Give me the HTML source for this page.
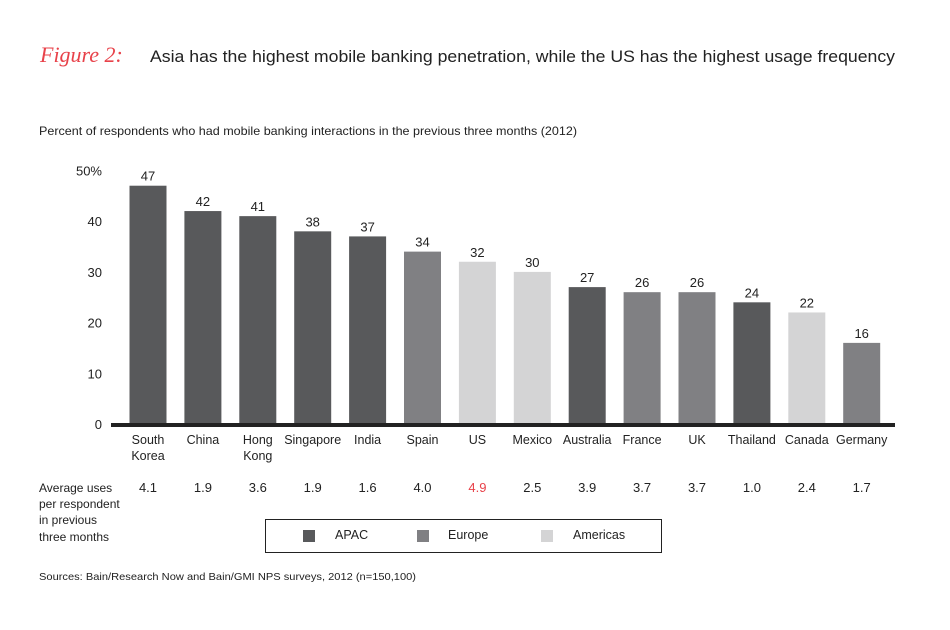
<!DOCTYPE html>
<html><head><meta charset="utf-8"><style>
body{margin:0;background:#fff;font-family:"Liberation Sans",sans-serif;}
svg text{font-family:"Liberation Sans",sans-serif;fill:#222;}
</style></head><body>
<svg width="950" height="625" viewBox="0 0 950 625">
<text x="40" y="62" font-size="22" font-style="italic" style="fill:#e8424a;font-family:'Liberation Serif',serif">Figure 2:</text>
<text x="150" y="62" font-size="17" textLength="745" lengthAdjust="spacingAndGlyphs">Asia has the highest mobile banking penetration, while the US has the highest usage frequency</text>
<text x="39" y="135" font-size="12" textLength="538" lengthAdjust="spacingAndGlyphs">Percent of respondents who had mobile banking interactions in the previous three months (2012)</text>
<g id="yaxis"></g><g id="bars"></g><g id="cats"></g><g id="uses"></g>
<line x1="111" y1="425" x2="895" y2="425" stroke="#222" stroke-width="4"/>
<text font-size="12"><tspan x="39" y="492">Average uses</tspan><tspan x="39" y="508">per respondent</tspan><tspan x="39" y="524">in previous</tspan><tspan x="39" y="541">three months</tspan></text>
<g>
<rect x="265.5" y="519.5" width="396" height="33" fill="none" stroke="#222"/>
<rect x="303" y="530" width="12" height="12" fill="#58595b"/>
<text x="335" y="539" font-size="12.5">APAC</text>
<rect x="417" y="530" width="12" height="12" fill="#808083"/>
<text x="448" y="539" font-size="12.5">Europe</text>
<rect x="541" y="530" width="12" height="12" fill="#d4d4d5"/>
<text x="573" y="539" font-size="12.5">Americas</text>
</g>
<text x="39" y="580" font-size="10.5" textLength="377" lengthAdjust="spacingAndGlyphs">Sources: Bain/Research Now and Bain/GMI NPS surveys, 2012 (n=150,100)</text>
</svg>
<script>
const categories=["South|Korea","China","Hong|Kong","Singapore","India","Spain","US","Mexico","Australia","France","UK","Thailand","Canada","Germany"];
const values=[47,42,41,38,37,34,32,30,27,26,26,24,22,16];
const regions=["APAC","APAC","APAC","APAC","APAC","Europe","Americas","Americas","APAC","Europe","Europe","APAC","Americas","Europe"];
const avgUses=["4.1","1.9","3.6","1.9","1.6","4.0","4.9","2.5","3.9","3.7","3.7","1.0","2.4","1.7"];
const yTicks=[0,10,20,30,40,50];
const yTickLabels=["0","10","20","30","40","50%"];
const colors={APAC:"#58595b",Europe:"#808083",Americas:"#d4d4d5"};
const NS="http://www.w3.org/2000/svg";
const y0=424,ppu=5.07,x0=148,step=54.9,bw=37;
const yS=v=>y0-v*ppu, xS=i=>x0+i*step;
function mk(t,a,p,txt){const e=document.createElementNS(NS,t);for(const k in a)e.setAttribute(k,a[k]);if(txt!=null)e.textContent=txt;document.getElementById(p).appendChild(e);return e;}
yTicks.forEach((v,i)=>{const e=mk("text",{x:102,y:yS(v)+5,"font-size":13,"text-anchor":"end"},"yaxis",yTickLabels[i]);

});
values.forEach((v,i)=>{
const r=mk("rect",{x:xS(i)-bw/2,y:yS(v),width:bw,height:y0-yS(v),fill:colors[regions[i]]},"bars");


const t=mk("text",{x:xS(i),y:yS(v)-5,"font-size":13,"text-anchor":"middle"},"bars",String(v));


const parts=categories[i].split("|");
const c=mk("text",{"font-size":12.5,"text-anchor":"middle"},"cats");


parts.forEach((p,j)=>{const s=document.createElementNS(NS,"tspan");s.setAttribute("x",xS(i));s.setAttribute("y",444+j*16);s.textContent=p;c.appendChild(s);});
const u=mk("text",{x:xS(i),y:492,"font-size":13,"text-anchor":"middle"},"uses",avgUses[i]);
if(categories[i]==="US")u.style.fill="#e8424a";


});
</script>
</body></html>
